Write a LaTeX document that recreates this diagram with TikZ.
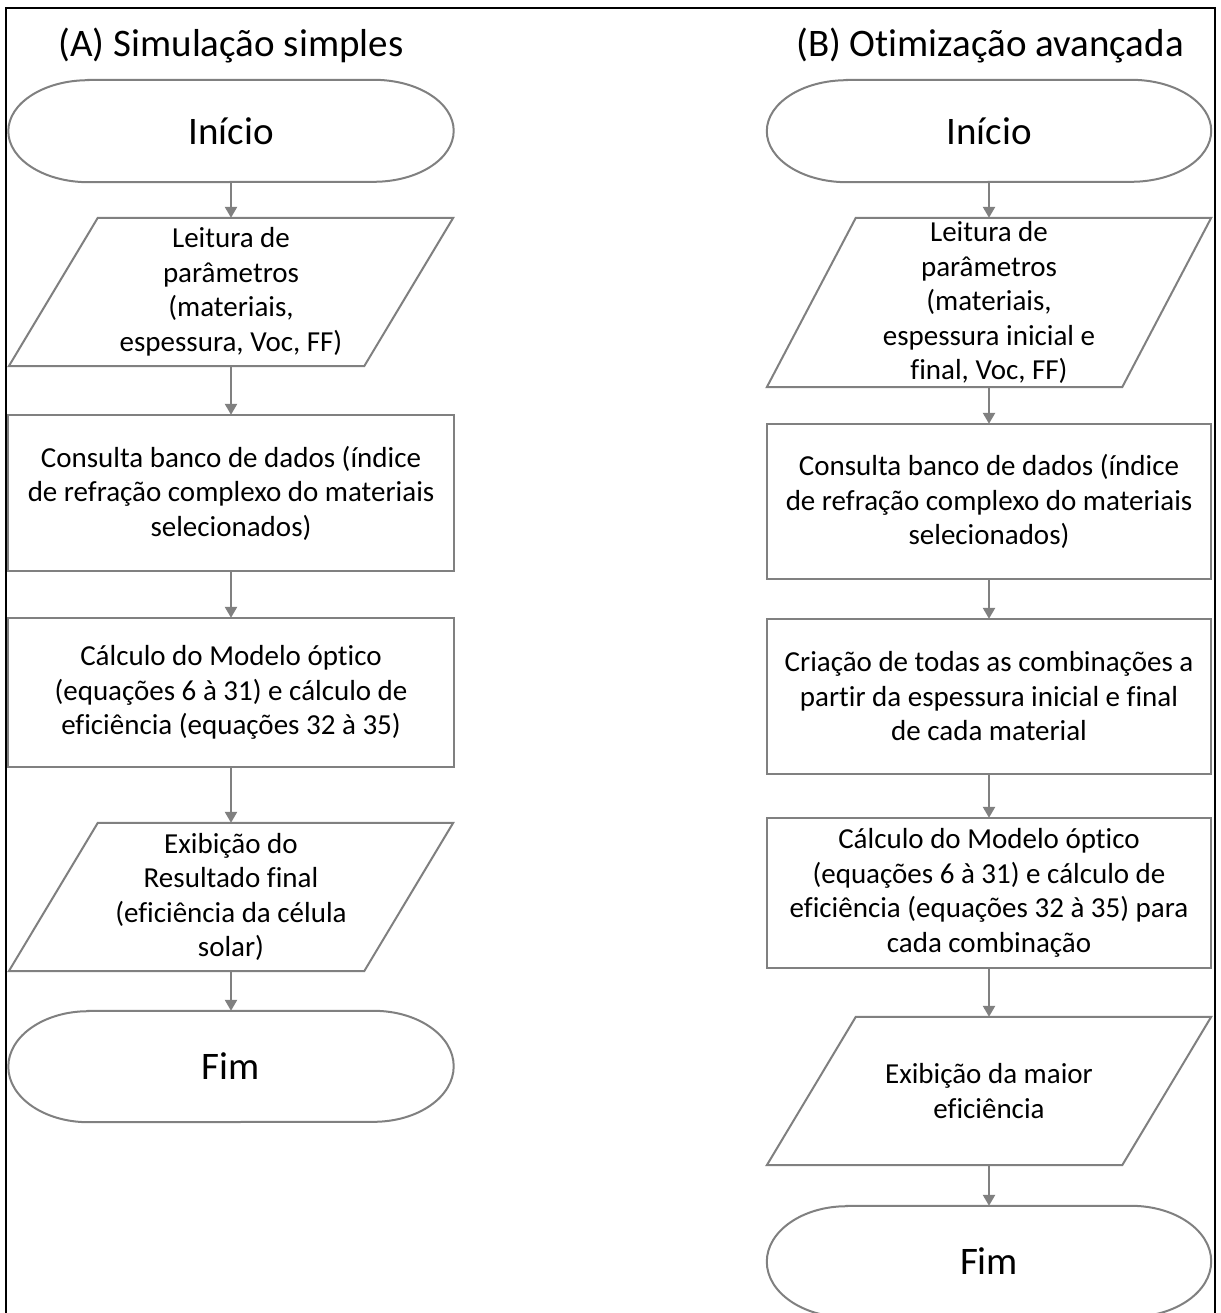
\documentclass[tikz,border=0pt]{standalone}
\usepackage{fontspec}
\setmainfont{Carlito}[Ligatures=CommonOff]
\usetikzlibrary{arrows.meta}
\definecolor{lin}{RGB}{128,128,128}
\definecolor{txt}{RGB}{0,0,0}
\tikzset{
  boxtext/.style={draw=none, inner sep=0pt, align=center, text=txt,
    font=\fontsize{29pt}{34.5pt}\selectfont},
  bigtext/.style={draw=none, inner sep=0pt, align=center, text=txt,
    font=\fontsize{39pt}{46pt}\selectfont},
  shapeline/.style={draw=lin, line width=2pt, line join=miter},
  arr/.style={draw=lin, line width=2.4pt, -{Triangle[width=12pt,length=11pt]}},
  framebox/.style={draw=black, line width=2.5pt}
}
\newcommand\termpath[2]{\draw[shapeline] ([xshift=80pt]#1.north west) -- ([xshift=-80pt]#1.north east) arc[start angle=90,end angle=-90,x radius=80pt,y radius=#2] -- ([xshift=80pt]#1.south west) arc[start angle=270,end angle=90,x radius=80pt,y radius=#2] -- cycle;}
\newcommand\parapath[1]{\draw[shapeline] ([xshift=89pt]#1.north west) -- (#1.north east) -- ([xshift=-89pt]#1.south east) -- (#1.south west) -- cycle;}
\begin{document}
\begin{tikzpicture}[x=1pt,y=-1pt]
\useasboundingbox (0,0) rectangle (1220,1313);
\clip (0,0) rectangle (1220,1313);
\fill[white] (0,0) rectangle (1220,1313);
% frame
\draw[framebox] (6,1330) -- (6,8) -- (1215,8) -- (1215,1330);
% titles
\node[bigtext, anchor=base] (tA) at (231,57) {(A) Simulação simples};
\node[bigtext, anchor=base] (tB) at (990,57) {(B) Otimização avançada};
% column A
\node[bigtext, minimum width=445pt, minimum height=102pt] (iA) at (231,131) {Início};
\node[boxtext, minimum width=444pt, minimum height=148pt] (pA1) at (231,292) {Leitura de\\parâmetros\\(materiais,\\espessura, Voc, FF)};
\node[boxtext, minimum width=445pt, minimum height=156pt] (rA1) at (231,493) {Consulta banco de dados (índice\\de refração complexo do materiais\\selecionados)};
\node[boxtext, minimum width=445pt, minimum height=149pt] (rA2) at (231,692.5) {Cálculo do Modelo óptico\\(equações 6 à 31) e cálculo de\\eficiência (equações 32 à 35)};
\node[boxtext, minimum width=444pt, minimum height=148pt] (pA2) at (231,897) {Exibição do\\Resultado final\\(eficiência da célula\\solar)};
\node[bigtext, minimum width=445pt, minimum height=111pt] (fA) at (231,1066.5) {Fim};
% column B
\node[bigtext, minimum width=444pt, minimum height=102pt] (iB) at (989,131) {Início};
\node[boxtext, minimum width=444pt, minimum height=169pt] (pB1) at (989,302.5) {Leitura de\\parâmetros\\(materiais,\\espessura inicial e\\final, Voc, FF)};
\node[boxtext, minimum width=444pt, minimum height=155pt] (rB1) at (989,501.5) {Consulta banco de dados (índice\\de refração complexo do materiais\\selecionados)};
\node[boxtext, minimum width=444pt, minimum height=155pt] (rB2) at (989,696.5) {Criação de todas as combinações a\\partir da espessura inicial e final\\de cada material};
\node[boxtext, minimum width=444pt, minimum height=150pt] (rB3) at (989,893) {Cálculo do Modelo óptico\\(equações 6 à 31) e cálculo de\\eficiência (equações 32 à 35) para\\cada combinação};
\node[boxtext, minimum width=444pt, minimum height=148pt] (pB2) at (989,1091) {Exibição da maior\\eficiência};
\node[bigtext, minimum width=444pt, minimum height=111pt] (fB) at (989,1261.5) {Fim};
% shapes
\termpath{iA}{51pt}
\parapath{pA1}
\draw[shapeline] (rA1.north west) rectangle (rA1.south east);
\draw[shapeline] (rA2.north west) rectangle (rA2.south east);
\parapath{pA2}
\termpath{fA}{55.5pt}
\termpath{iB}{51pt}
\parapath{pB1}
\draw[shapeline] (rB1.north west) rectangle (rB1.south east);
\draw[shapeline] (rB2.north west) rectangle (rB2.south east);
\draw[shapeline] (rB3.north west) rectangle (rB3.south east);
\parapath{pB2}
\termpath{fB}{55.5pt}
% connectors
\draw[arr] (iA.south) -- (pA1.north);
\draw[arr] (pA1.south) -- (rA1.north);
\draw[arr] (rA1.south) -- (rA2.north);
\draw[arr] (rA2.south) -- (pA2.north);
\draw[arr] (pA2.south) -- (fA.north);
\draw[arr] (iB.south) -- (pB1.north);
\draw[arr] (pB1.south) -- (rB1.north);
\draw[arr] (rB1.south) -- (rB2.north);
\draw[arr] (rB2.south) -- (rB3.north);
\draw[arr] (rB3.south) -- (pB2.north);
\draw[arr] (pB2.south) -- (fB.north);
\end{tikzpicture}
\end{document}
